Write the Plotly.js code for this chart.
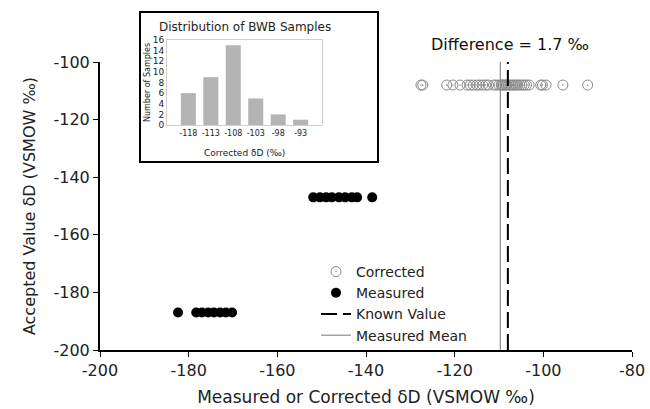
<!DOCTYPE html>
<html>
<head>
<meta charset="utf-8">
<script src="https://cdn.plot.ly/plotly-3.0.1.min.js"></script>
<style>html,body{margin:0;padding:0;background:#fff;}#chart{width:650px;height:409px;}</style>
</head>
<body>
<div id="chart"></div>
<script>
// ---- data ----
const correctedX = [-127.6, -127.2, -121.8, -120.4, -118.8, -117.2, -116.5, -115.8, -115.0, -114.4,
  -113.7, -113.0, -112.4, -111.2, -110.6, -110.0, -109.5, -109.3, -109.0, -108.6, -108.4, -108.2,
  -107.8, -107.4, -107.0, -106.6, -106.2, -105.8, -105.3, -104.8, -104.3, -103.8, -103.2,
  -100.6, -100.2, -99.4, -95.6, -90.0];
const correctedAccepted = -108;
const measuredHighX = [-151.9, -150.4, -149.0, -147.7, -146.1, -144.7, -143.2, -142.0, -138.6];
const measuredHighAccepted = -147;
const measuredLowX = [-182.4, -178.3, -177.0, -175.6, -174.3, -172.9, -171.6, -170.2];
const measuredLowAccepted = -187;
const knownValue = -108;
const measuredMean = -109.7;
const yRange = [-200, -100];
const xTicks = [-200, -180, -160, -140, -120, -100, -80];
const yTicks = [-200, -180, -160, -140, -120, -100];
const histBins = ['-118', '-113', '-108', '-103', '-98', '-93'];
const histCounts = [6, 9, 15, 5, 2, 1];
const histTicks = [0, 2, 4, 6, 8, 10, 12, 14, 16];

const FONT = 'DejaVu Sans, Arial, sans-serif';

const measuredX = measuredHighX.concat(measuredLowX);
const measuredY = measuredHighX.map(() => measuredHighAccepted).concat(measuredLowX.map(() => measuredLowAccepted));

const traces = [
  {
    type: 'scatter', mode: 'markers', name: 'Corrected',
    x: correctedX, y: correctedX.map(() => correctedAccepted),
    marker: {symbol: 'circle-open-dot', size: 10, color: '#8a8a8a', line: {width: 1, color: '#8a8a8a'}},
    xaxis: 'x', yaxis: 'y'
  },
  {
    type: 'scatter', mode: 'markers', name: 'Measured',
    x: measuredX, y: measuredY,
    marker: {symbol: 'circle', size: 10, color: '#000'},
    xaxis: 'x', yaxis: 'y'
  },
  {
    type: 'scatter', mode: 'lines', name: 'Known Value',
    x: [knownValue, knownValue], y: yRange,
    line: {color: '#000', width: 2, dash: '16px,6px'},
    xaxis: 'x', yaxis: 'y'
  },
  {
    type: 'scatter', mode: 'lines', name: 'Measured Mean',
    x: [measuredMean, measuredMean], y: yRange,
    line: {color: '#8c8c8c', width: 1.2},
    xaxis: 'x', yaxis: 'y'
  },
  {
    type: 'bar', name: 'hist', showlegend: false,
    x: histBins, y: histCounts,
    marker: {color: '#b4b4b4'},
    xaxis: 'x2', yaxis: 'y2'
  }
];

// frame: plot area left 100, right 632, top 10, bottom 350
const W = 532, H = 340;
const px = v => (v - 100) / W;
const py = v => (350 - v) / H;

const layout = {
  width: 650, height: 409,
  margin: {l: 100, r: 18, t: 10, b: 59},
  paper_bgcolor: '#fff', plot_bgcolor: 'rgba(0,0,0,0)',
  font: {family: FONT, color: '#222', size: 16},
  showlegend: true,
  bargap: 0.33,
  legend: {
    x: px(316), xanchor: 'left', y: py(256), yanchor: 'top',
    bgcolor: 'rgba(0,0,0,0)', font: {family: FONT, size: 14, color: '#222'},
    tracegroupgap: 0
  },
  xaxis: {
    range: [-200, -80], tickmode: 'array', tickvals: xTicks, ticktext: xTicks.map(String), domain: [0, 1],
    showgrid: false, zeroline: false, showline: true, linecolor: '#000', linewidth: 2,
    ticks: 'outside', ticklen: 5, tickcolor: '#000', tickwidth: 1,
    tickfont: {family: FONT, size: 16, color: '#222'},
    title: {text: 'Measured or Corrected δD (VSMOW ‰)', font: {family: FONT, size: 17, color: '#222'}, standoff: 12},
    anchor: 'y'
  },
  yaxis: {
    range: yRange, tickmode: 'array', tickvals: yTicks, ticktext: yTicks.map(String), domain: [0, py(62)],
    showgrid: false, zeroline: false, showline: true, linecolor: '#000', linewidth: 2,
    ticks: 'outside', ticklen: 5, tickcolor: '#000', tickwidth: 1,
    tickfont: {family: FONT, size: 16, color: '#222'},
    title: {text: 'Accepted Value δD (VSMOW ‰)', font: {family: FONT, size: 16, color: '#222'}, standoff: 14},
    anchor: 'x'
  },
  xaxis2: {
    domain: [px(167), px(322)], anchor: 'y2', type: 'category',
    range: [-0.95, 5.95], tickangle: 0,
    showgrid: false, zeroline: false, showline: true, mirror: true, linecolor: '#cfcfcf', linewidth: 1,
    ticks: '', tickfont: {family: FONT, size: 8, color: '#222'}
  },
  yaxis2: {
    domain: [py(125), py(40)], anchor: 'x2',
    range: [0, 16], tickmode: 'array', tickvals: histTicks, ticktext: histTicks.map(String),
    showgrid: false, zeroline: false, showline: true, mirror: true, linecolor: '#cfcfcf', linewidth: 1,
    ticks: '', tickfont: {family: FONT, size: 9, color: '#222'}
  },
  shapes: [
    {type: 'rect', xref: 'paper', yref: 'paper', layer: 'below',
     x0: px(140), x1: px(378), y0: py(162), y1: py(12),
     line: {color: '#000', width: 2}, fillcolor: '#fff'}
  ],
  annotations: [
    {xref: 'paper', yref: 'paper', x: px(245), y: py(27), text: 'Distribution of BWB Samples',
     showarrow: false, font: {family: FONT, size: 12, color: '#222'}, xanchor: 'center', yanchor: 'middle'},
    {xref: 'paper', yref: 'paper', x: px(244), y: py(153), text: 'Corrected δD (‰)',
     showarrow: false, font: {family: FONT, size: 9, color: '#222'}, xanchor: 'center', yanchor: 'middle'},
    {xref: 'paper', yref: 'paper', x: px(147), y: py(83), text: 'Number of Samples', textangle: -90,
     showarrow: false, font: {family: FONT, size: 8, color: '#222'}, xanchor: 'center', yanchor: 'middle'},
    {xref: 'paper', yref: 'paper', x: px(510), y: py(45), text: 'Difference = 1.7 ‰',
     showarrow: false, font: {family: FONT, size: 16, color: '#111'}, xanchor: 'center', yanchor: 'middle'}
  ]
};

Plotly.newPlot('chart', traces, layout, {displayModeBar: false, staticPlot: true});
</script>
</body>
</html>
